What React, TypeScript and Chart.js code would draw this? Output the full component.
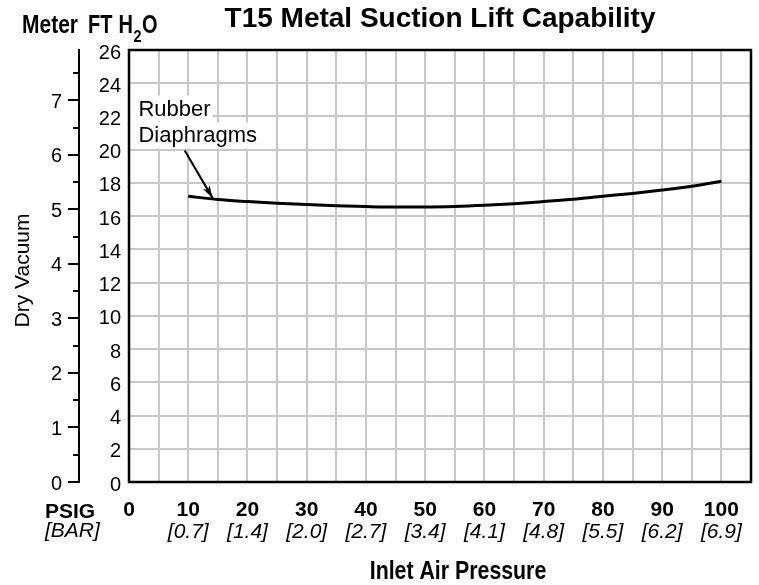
import React, { useEffect, useRef } from 'react';
import { Chart, registerables } from 'chart.js';

Chart.register(...registerables);

// ---- data ----
const psigValues = [10, 15, 20, 25, 30, 35, 40, 45, 50, 55, 60, 65, 70, 75, 80, 85, 90, 95, 100];
const ftH2OValues = [17.2, 17.0, 16.88, 16.78, 16.7, 16.63, 16.58, 16.55, 16.55, 16.58, 16.65, 16.75, 16.88, 17.02, 17.2, 17.37, 17.57, 17.8, 18.1];
const psigTickLabels = ['0', '10', '20', '30', '40', '50', '60', '70', '80', '90', '100'];
const barTickLabels = ['', '[0.7]', '[1.4]', '[2.0]', '[2.7]', '[3.4]', '[4.1]', '[4.8]', '[5.5]', '[6.2]', '[6.9]'];
const ftMax = 26;
const meterMax = ftMax * 0.3048;

const FONT = "'Liberation Sans', Arial, Helvetica, sans-serif";

function condensedText(ctx: CanvasRenderingContext2D, text: string, x: number, y: number, font: string, squeeze: number, align: 'left' | 'center'): number {
  ctx.save();
  ctx.font = font;
  ctx.textBaseline = 'alphabetic';
  ctx.textAlign = 'left';
  const w = ctx.measureText(text).width * squeeze;
  const startX = align === 'center' ? x - w / 2 : x;
  ctx.translate(startX, y);
  ctx.scale(squeeze, 1);
  ctx.fillText(text, 0, 0);
  ctx.restore();
  return startX + w;
}

function noPad(s: any) {
  s.paddingLeft = 0;
  s.paddingRight = 0;
  s.paddingTop = 0;
  s.paddingBottom = 0;
}

const overlayPlugin = {
  id: 'overlay',
  afterDatasetsDraw(chart: any) {
    const ctx: CanvasRenderingContext2D = chart.ctx;
    const xs = chart.scales.x;
    const ys = chart.scales.y;
    ctx.save();
    // annotation label with white background
    ctx.font = `22px ${FONT}`;
    const tx = xs.getPixelForValue(1.6);
    const l1y = ys.getPixelForValue(22.0);
    const l2y = l1y + 26;
    const w1 = ctx.measureText('Rubber').width;
    const w2 = ctx.measureText('Diaphragms').width;
    ctx.fillStyle = '#ffffff';
    ctx.fillRect(tx - 8, l1y - 21, w1 + 10, 26);
    ctx.fillRect(tx - 8, l2y - 20, w2 + 4, 26);
    ctx.fillStyle = '#000';
    ctx.textBaseline = 'alphabetic';
    ctx.textAlign = 'left';
    ctx.fillText('Rubber', tx, l1y);
    ctx.fillText('Diaphragms', tx, l2y);
    // arrow
    const ax0 = xs.getPixelForValue(9.4), ay0 = ys.getPixelForValue(19.95);
    const ax1 = xs.getPixelForValue(14.1), ay1 = ys.getPixelForValue(17.1);
    ctx.strokeStyle = '#000';
    ctx.lineWidth = 2;
    ctx.beginPath();
    ctx.moveTo(ax0, ay0);
    ctx.lineTo(ax1, ay1);
    ctx.stroke();
    const ang = Math.atan2(ay1 - ay0, ax1 - ax0);
    const hl = 13;
    ctx.beginPath();
    ctx.moveTo(ax1, ay1);
    ctx.lineTo(ax1 - hl * Math.cos(ang - 0.3), ay1 - hl * Math.sin(ang - 0.3));
    ctx.lineTo(ax1 - hl * 0.7 * Math.cos(ang), ay1 - hl * 0.7 * Math.sin(ang));
    ctx.lineTo(ax1 - hl * Math.cos(ang + 0.3), ay1 - hl * Math.sin(ang + 0.3));
    ctx.closePath();
    ctx.fill();
    ctx.restore();
  },
  afterDraw(chart: any) {
    const ctx: CanvasRenderingContext2D = chart.ctx;
    const { left, right, top, bottom } = chart.chartArea;
    const y2 = chart.scales.y2;
    ctx.save();
    // plot border
    ctx.strokeStyle = '#000';
    ctx.lineWidth = 2.5;
    ctx.strokeRect(left, top, right - left, bottom - top);
    // minor meter ticks
    ctx.lineWidth = 2;
    ctx.beginPath();
    for (let v = 0.5; v < meterMax; v += 1) {
      const py = Math.round(y2.getPixelForValue(v));
      ctx.moveTo(y2.right, py);
      ctx.lineTo(y2.right - 6, py);
    }
    ctx.stroke();
    ctx.fillStyle = '#000';
    // title
    ctx.font = `bold 28px ${FONT}`;
    ctx.textAlign = 'center';
    ctx.textBaseline = 'alphabetic';
    ctx.fillText('T15 Metal Suction Lift Capability', (left + right) / 2, 27);
    // heading
    condensedText(ctx, 'Meter', 22, 33, `bold 25px ${FONT}`, 0.84, 'left');
    let hx = condensedText(ctx, 'FT', 88, 33, `bold 25px ${FONT}`, 0.8, 'left');
    hx = condensedText(ctx, 'H', hx + 6, 33, `bold 25px ${FONT}`, 0.8, 'left');
    hx = condensedText(ctx, '2', hx + 0.5, 42, `bold 17px ${FONT}`, 0.85, 'left');
    condensedText(ctx, 'O', hx + 0.5, 33, `bold 25px ${FONT}`, 0.8, 'left');
    // Dry Vacuum
    ctx.save();
    ctx.translate(28.5, 270.5);
    ctx.rotate(-Math.PI / 2);
    ctx.font = `21px ${FONT}`;
    ctx.textAlign = 'center';
    ctx.textBaseline = 'alphabetic';
    ctx.fillText('Dry Vacuum', 0, 0);
    ctx.restore();
    // PSIG / BAR
    ctx.textAlign = 'left';
    ctx.font = `bold 21px ${FONT}`;
    ctx.fillText('PSIG', 45, 518);
    ctx.font = `italic 21px ${FONT}`;
    ctx.fillText('[BAR]', 45, 537);
    // x axis title
    condensedText(ctx, 'Inlet Air Pressure', 458, 579, `bold 26px ${FONT}`, 0.82, 'center');
    ctx.restore();
  },
};

export default function App() {
  const canvasRef = useRef<HTMLCanvasElement | null>(null);

  useEffect(() => {
    if (!canvasRef.current) return;
    const points = psigValues.map((x, i) => ({ x, y: ftH2OValues[i] }));
    const chart = new Chart(canvasRef.current, {
      type: 'line',
      data: {
        datasets: [
          {
            label: 'Rubber Diaphragms',
            data: points,
            xAxisID: 'x',
            yAxisID: 'y',
            borderColor: '#000',
            borderWidth: 3,
            pointRadius: 0,
            fill: false,
            tension: 0.4,
            cubicInterpolationMode: 'monotone',
          },
        ],
      },
      options: {
        animation: false,
        responsive: false,
        devicePixelRatio: 1,
        layout: { padding: { left: 0, right: 8, top: 50, bottom: 0 } },
        plugins: {
          legend: { display: false },
          tooltip: { enabled: false },
          title: { display: false },
        },
        scales: {
          x: {
            type: 'linear',
            position: 'bottom',
            weight: 0,
            min: 0,
            max: 105,
            ticks: {
              stepSize: 5,
              autoSkip: false,
              maxRotation: 0,
              padding: 17.5,
              color: '#000',
              font: { family: FONT, size: 21, weight: 'bold', lineHeight: 1 },
              callback: (v: any) => {
                const n = Number(v);
                return n % 10 === 0 && n <= 100 ? psigTickLabels[n / 10] : '';
              },
            },
            grid: { color: '#c8c8c8', lineWidth: 2, drawTicks: false },
            border: { color: '#000', width: 2 },
            afterFit: (s: any) => { s.height = 38; noPad(s); },
          },
          x2: {
            type: 'linear',
            position: 'bottom',
            weight: 1,
            min: 0,
            max: 105,
            ticks: {
              stepSize: 5,
              autoSkip: false,
              maxRotation: 0,
              padding: -6,
              color: '#000',
              font: { family: FONT, size: 21, style: 'italic', lineHeight: 1 },
              callback: (v: any) => {
                const n = Number(v);
                return n % 10 === 0 && n <= 100 ? barTickLabels[n / 10] : '';
              },
            },
            grid: { display: false },
            border: { display: false },
            afterFit: (s: any) => { s.height = 65; noPad(s); },
          },
          y: {
            type: 'linear',
            position: 'left',
            weight: 0,
            min: 0,
            max: ftMax,
            ticks: {
              stepSize: 2,
              padding: 8,
              labelOffset: 3,
              color: '#000',
              font: { family: FONT, size: 20 },
            },
            grid: { color: '#c8c8c8', lineWidth: 2, drawTicks: false },
            border: { color: '#000', width: 2 },
            afterFit: (s: any) => { s.width = 50; noPad(s); },
          },
          y2: {
            type: 'linear',
            position: 'left',
            weight: 1,
            min: 0,
            max: meterMax,
            ticks: {
              stepSize: 1,
              includeBounds: false,
              padding: 6,
              labelOffset: 2,
              color: '#000',
              font: { family: FONT, size: 20 },
            },
            grid: { display: true, drawOnChartArea: false, drawTicks: true, tickLength: 11, color: '#000', lineWidth: 2 },
            border: { display: true, color: '#000', width: 2 },
            afterFit: (s: any) => { s.width = 79; noPad(s); },
          },
        },
      } as any,
      plugins: [overlayPlugin],
    });
    return () => chart.destroy();
  }, []);

  return (
    <div style={{ position: 'fixed', left: 0, top: 0, width: 759, height: 585, background: '#fff' }}>
      <canvas ref={canvasRef} width={759} height={585} style={{ display: 'block' }} />
    </div>
  );
}
